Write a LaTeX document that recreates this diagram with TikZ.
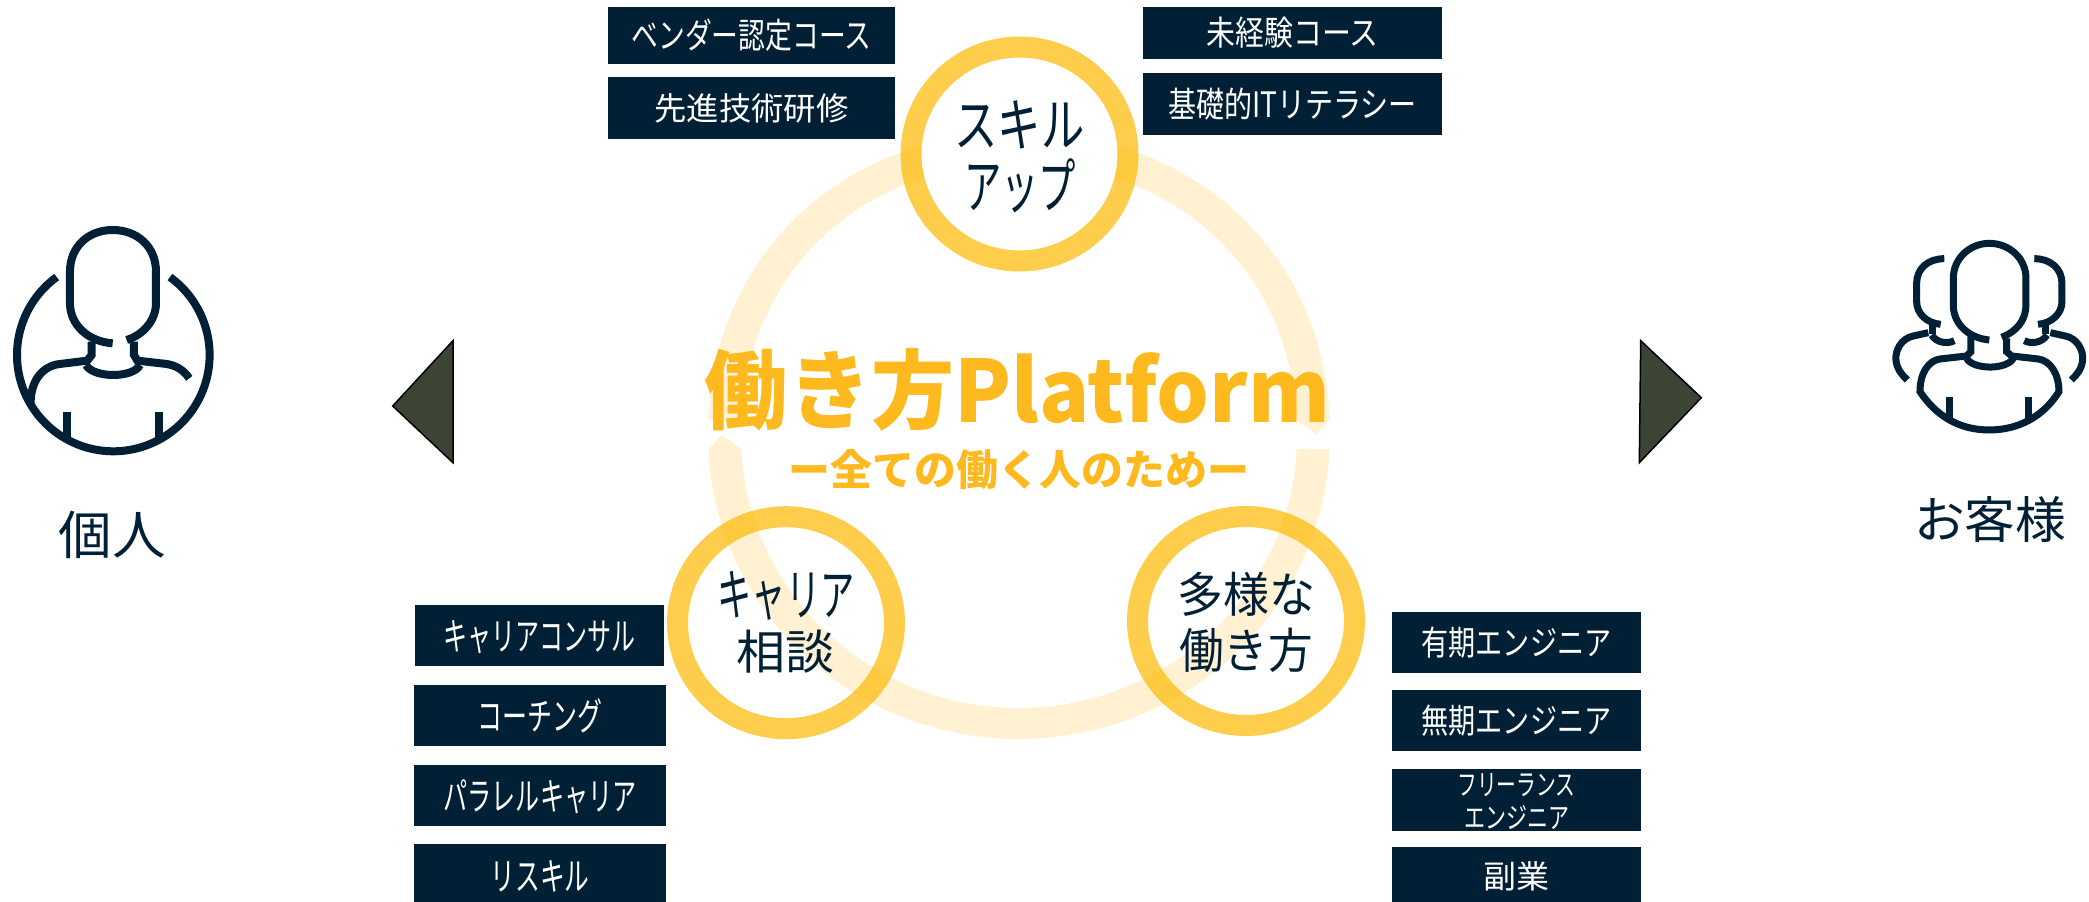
\documentclass[tikz,border=0pt]{standalone}
\usepackage{fontspec}
\usepackage{graphicx}
\setmainfont{Noto Sans CJK JP}
\definecolor{navy}{HTML}{012035}
\definecolor{amber}{HTML}{FDB91E}
\definecolor{hubamber}{HTML}{FDB800}
\definecolor{olive}{HTML}{3B4435}
\newcommand{\fit}[2]{\resizebox{\dimexpr#1pt+4pt\relax}{\height}{#2}}
\newcommand{\fs}[1]{\fontsize{#1}{#1}\selectfont}
\newcommand{\dn}[2]{\raisebox{-#1pt}[\height][\depth]{#2}}
\tikzset{
  tagbox/.style={fill=navy,text=white,inner sep=0pt,font=\fs{33},align=center},
  caption/.style={text=navy,inner sep=0pt,align=center},
  icon/.style={draw=navy,line width=8pt,fill=none},
  ring/.style={fill=amber,fill opacity=.2},
  hub/.style={draw=hubamber,draw opacity=.7,line width=21pt,fill=none},
  wedge/.style={fill=olive,draw=black,line width=1.5pt,line join=miter},
  title/.style={text=amber,inner sep=0pt,font=\bfseries\fs{86}},
  declare function={
    sx(\t)=(cos(\t)<0?-1:1)*pow(abs(cos(\t))+0.0001,0.952);
    sy(\t)=(sin(\t)<0?-1:1)*pow(abs(sin(\t))+0.0001,0.952);
  },
}
\newcommand{\tagat}[8]{% name, x0, y0, x1, y1, textwidth, fontsize, text
  \node[tagbox,font=\fs{#7},minimum width={(#4-#2)*1pt},minimum height={(#5-#3)*1pt}] (#1) at ({(#2+#4)/2},{(#3+#5)/2}) {#8};}
\begin{document}
\begin{tikzpicture}[x=1pt,y=-1pt]
\useasboundingbox (0,0) rectangle (2089,902);
% big ring
\fill[ring] plot[domain=182.6:357.4,samples=120] ({1019+311*sx(\x)},{436+303*sy(\x)})
  -- (1316,434) -- plot[domain=357.1:182.9,samples=120] ({1019+278*sx(\x)},{436+272*sy(\x)}) -- cycle;
\fill[ring] (722,435) -- plot[domain=177.3:2.7,samples=150] ({1019+278*cos(\x)},{436+272*sin(\x)})
  -- plot[domain=2.5:177.5,samples=150] ({1019+311*cos(\x)},{436+303*sin(\x)}) -- cycle;
% hubs
\fill[white] (1019.5,154) ellipse [x radius=98pt,y radius=96pt];
\draw[hub] (1019.5,154) ellipse [x radius=108.5pt,y radius=107pt];
\draw[hub] (786,622.7) ellipse [x radius=108.5pt,y radius=106pt];
\draw[hub] (1246,621) ellipse [x radius=108.5pt,y radius=104.5pt];
% hub labels
\node[caption,font=\fs{58}] (skillA) at (1019.5,125) {\fit{126}{スキル}};
\node[caption,font=\fs{60}] (skillB) at (1020,186) {\fit{108}{アップ}};
\node[caption,font=\fs{56}] (careerA) at (786,596) {\fit{133}{キャリア}};
\node[caption,font=\fs{47}] (careerB) at (785,652) {\fit{94}{相談}};
\node[caption,font=\fs{48}] (styleA) at (1246,594) {\fit{134}{多様な}};
\node[caption,font=\fs{48}] (styleB) at (1246,650) {\fit{130}{働き方}};
% title
\node[title] (title) at (1017.5,389.5) {\fit{621}{働き方Platform}};
\node[title,font=\bfseries\fs{42}] (subtitle) at (1019,470) {\fit{457}{ー全ての働く人のためー}};
% tags
\tagat{a1}{608}{7}{895}{64}{236}{35}{\fit{236}{ベンダー認定コース}}
\tagat{a2}{608}{77}{895}{139}{190}{32}{\fit{190}{先進技術研修}}
\tagat{b1}{1143}{7}{1442}{59}{168}{34}{\fit{168}{未経験コース}}
\tagat{b2}{1143}{73}{1442}{135}{245}{35}{\fit{245}{基礎的ITリテラシー}}
\tagat{c1}{415}{605}{664}{666}{188}{38}{\dn{1.5}{\fit{188}{キャリアコンサル}}}
\tagat{c2}{414}{685}{666}{746}{121}{38}{\fit{121}{コーチング}}
\tagat{c3}{414}{765}{666}{826}{189}{38}{\dn{1.5}{\fit{189}{パラレルキャリア}}}
\tagat{c4}{414}{844}{666}{902}{95}{38}{\dn{3}{\fit{95}{リスキル}}}
\tagat{d1}{1392}{612}{1641}{673}{186}{34}{\fit{186}{有期エンジニア}}
\tagat{d2}{1392}{690}{1641}{751}{186}{34}{\fit{186}{無期エンジニア}}
\node[tagbox,font=\fs{29},minimum width=249pt,minimum height=62pt] (d3) at (1516.5,800)
  {\dn{2}{\fit{114}{フリーランス}}\\[4pt]\dn{2}{\fit{101}{エンジニア}}};
\tagat{d4}{1392}{847}{1641}{902}{62}{32}{\dn{1.5}{\fit{62}{副業}}}
% side labels
\node[caption,font=\fs{52}] (solo) at (112,535) {\fit{103}{個人}};
\node[caption,font=\fs{50}] (client) at (1990,520) {\fit{148}{お客様}};
% wedges
\draw[wedge] (392.7,406) -- (453,340.7) -- (453,462.7) -- cycle;
\draw[wedge] (1640.7,340.7) -- (1701.3,397.7) -- (1639.3,462.7) -- cycle;
% person icon
\begin{scope}[shift={(0,200)},x=0.3333pt,y=-0.3333pt]
\draw[icon] (338,430) .. controls (265,425) and (210,375) .. (210,310) -- (210,215)
  .. controls (210,140) and (265,90) .. (338,90) .. controls (412,90) and (468,140) .. (468,215)
  -- (468,310) .. controls (468,360) and (430,405) .. (380,420);
\draw[icon] (275,425) -- (275,465) -- (262,482) -- (180,492) .. controls (130,497) and (90,540) .. (92,615);
\draw[icon] (402,425) -- (402,465) -- (412,482) -- (500,492) .. controls (530,497) and (550,510) .. (568,535);
\draw[icon] (258,495) .. controls (280,535) and (400,535) .. (420,495);
\draw[icon] plot[domain=234:-54,samples=120] ({340+289*cos(\x)},{465+289*sin(\x)});
\draw[icon] (200,635) -- (200,720);
\draw[icon] (478,635) -- (478,718);
\end{scope}
% people icon
\begin{scope}[shift={(1620,210)},x=0.3333pt,y=-0.3333pt,icon/.append style={line width=7pt}]
\draw[icon] (1108,390) .. controls (1050,385) and (1000,345) .. (1000,285) -- (1000,205)
  .. controls (1000,145) and (1050,100) .. (1108,100) .. controls (1168,100) and (1218,145) .. (1218,205)
  -- (1218,285) .. controls (1218,330) and (1190,365) .. (1145,382);
\draw[icon] (1053,380) -- (1053,425) -- (1040,438) -- (960,447) .. controls (925,452) and (900,490) .. (900,545)
  .. controls (950,620) and (1020,660) .. (1108,660) .. controls (1195,660) and (1270,620) .. (1317,545)
  .. controls (1317,490) and (1290,452) .. (1255,447) -- (1175,438) -- (1160,425) -- (1160,385);
\draw[icon] (1040,445) .. controls (1060,480) and (1160,480) .. (1180,445);
\draw[icon] (990,560) -- (990,635);
\draw[icon] (1226,560) -- (1226,635);
\draw[icon] (973,146) .. controls (925,146) and (890,175) .. (890,220) -- (890,275) .. controls (890,310) and (920,340) .. (962,343);
\draw[icon] (938,340) -- (938,372);
\draw[icon] (925,368) -- (880,378) .. controls (845,385) and (825,420) .. (828,450) .. controls (830,475) and (845,495) .. (862,510);
\draw[icon] (935,375) .. controls (950,400) and (985,402) .. (1003,392);
\draw[icon] (1243,146) .. controls (1291,146) and (1326,175) .. (1326,220) -- (1326,275) .. controls (1326,310) and (1296,340) .. (1254,343);
\draw[icon] (1278,340) -- (1278,372);
\draw[icon] (1291,368) -- (1336,378) .. controls (1371,385) and (1391,420) .. (1388,450) .. controls (1386,475) and (1371,495) .. (1354,510);
\draw[icon] (1281,375) .. controls (1266,400) and (1231,402) .. (1213,392);
\end{scope}
\end{tikzpicture}
\end{document}
